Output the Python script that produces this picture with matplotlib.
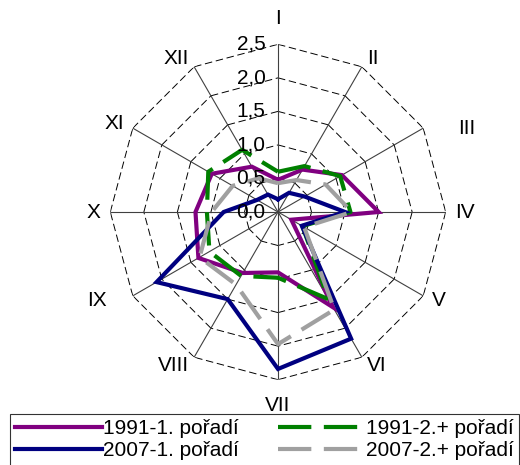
import matplotlib
matplotlib.use("Agg")
import matplotlib.pyplot as plt
import numpy as np

plt.rcParams["font.family"] = ["Liberation Sans", "DejaVu Sans"]

# months (categories) and values
MONTHS = ["I", "II", "III", "IV", "V", "VI", "VII", "VIII", "IX", "X", "XI", "XII"]
LEVELS = [0.0, 0.5, 1.0, 1.5, 2.0, 2.5]
LEVEL_LABELS = ["0,0", "0,5", "1,0", "1,5", "2,0", "2,5"]

v1991_1 = [0.48, 0.73, 1.10, 1.50, 0.23, 1.64, 0.90, 1.05, 1.37, 1.23, 1.14, 0.78]
v1991_2 = [0.60, 0.79, 1.07, 1.08, 0.42, 1.50, 0.98, 1.10, 1.18, 1.06, 1.20, 1.07]
v2007_1 = [0.19, 0.33, 0.46, 1.00, 0.41, 2.18, 2.34, 1.50, 2.09, 0.81, 0.36, 0.30]
v2007_2 = [0.43, 0.55, 0.82, 1.10, 0.45, 1.68, 1.97, 1.25, 1.35, 0.99, 0.78, 0.58]

SERIES = [
    ("1991-1. pořadí", v1991_1, "#800080", "-"),
    ("1991-2.+ pořadí", v1991_2, "#008000", (0, (8, 3))),
    ("2007-1. pořadí", v2007_1, "#000080", "-"),
    ("2007-2.+ pořadí", v2007_2, "#a0a0a0", (0, (8, 3))),
]

FS = 15
W, H = 520, 465
fig = plt.figure(figsize=(W / 100, H / 100), dpi=100)
cx, cy, R = 278, 212, 167.7
ax = fig.add_axes([(cx - R) / W, (H - cy - R) / H, 2 * R / W, 2 * R / H],
                  projection="polar")
ax.set_theta_zero_location("N")
ax.set_theta_direction(-1)
ax.set_ylim(0, 2.5)
ax.grid(False)
ax.set_xticks([])
ax.set_yticks([])
ax.spines["polar"].set_visible(False)

theta = np.deg2rad(np.arange(len(MONTHS)) * 30)

# polygon grid (each side separately so dashes start at corners)
for lvl in LEVELS[1:]:
    for k in range(len(theta)):
        t0, t1 = theta[k], theta[(k + 1) % len(theta)]
        ax.plot([t0, t1], [lvl, lvl], color="black", lw=0.7,
                ls=(0, (7.7, 3.8)), zorder=1)
# spokes
for t in theta:
    ax.plot([t, t], [0, 2.5], color="#404040", lw=0.8, zorder=1)

# value labels along the first spoke (drawn over the series)
for lvl, lab in zip(LEVELS, LEVEL_LABELS):
    ax.annotate(lab, xy=(0, lvl), xytext=(-9, 0), textcoords="offset points",
                ha="right", va="center", fontsize=FS, annotation_clip=False,
                zorder=10)

# month labels (extra nudges in points where the original sits further out)
nudge = {"III": (19, -4), "IX": (-13, 0)}
for t, lab in zip(theta, MONTHS):
    s, c = np.sin(t), np.cos(t)
    if abs(s) < 0.1:
        pad = 12
        ha = "center"
        va = "bottom" if c > 0 else "top"
    else:
        pad = 7
        ha = "left" if s > 0 else "right"
        va = "center"
    nx, ny = nudge.get(lab, (0, 0))
    ax.annotate(lab, xy=(t, 2.5), xytext=(pad * s + nx, pad * c + ny),
                textcoords="offset points", ha=ha, va=va, fontsize=FS,
                annotation_clip=False)

lines = {}
tt = np.append(theta, theta[0])
for i, (name, vals, col, ls) in enumerate(SERIES):
    (ln,) = ax.plot(tt, vals + vals[:1], color=col, lw=3.0, ls=ls,
                    solid_joinstyle="miter", zorder=3 + i, label=name)
    lines[name] = ln

order = ["1991-1. pořadí", "2007-1. pořadí", "1991-2.+ pořadí", "2007-2.+ pořadí"]
leg = fig.legend([lines[n] for n in order], order, loc="upper left",
                 bbox_to_anchor=(10 / W, 1 - 414 / H), ncol=2, frameon=True,
                 fancybox=False, edgecolor="black", borderaxespad=0,
                 handlelength=4.15, handletextpad=0.05, columnspacing=1.9,
                 labelspacing=0.15, borderpad=0.25, fontsize=FS)
leg.get_frame().set_linewidth(0.8)

fig.savefig("out.png", dpi=100)
